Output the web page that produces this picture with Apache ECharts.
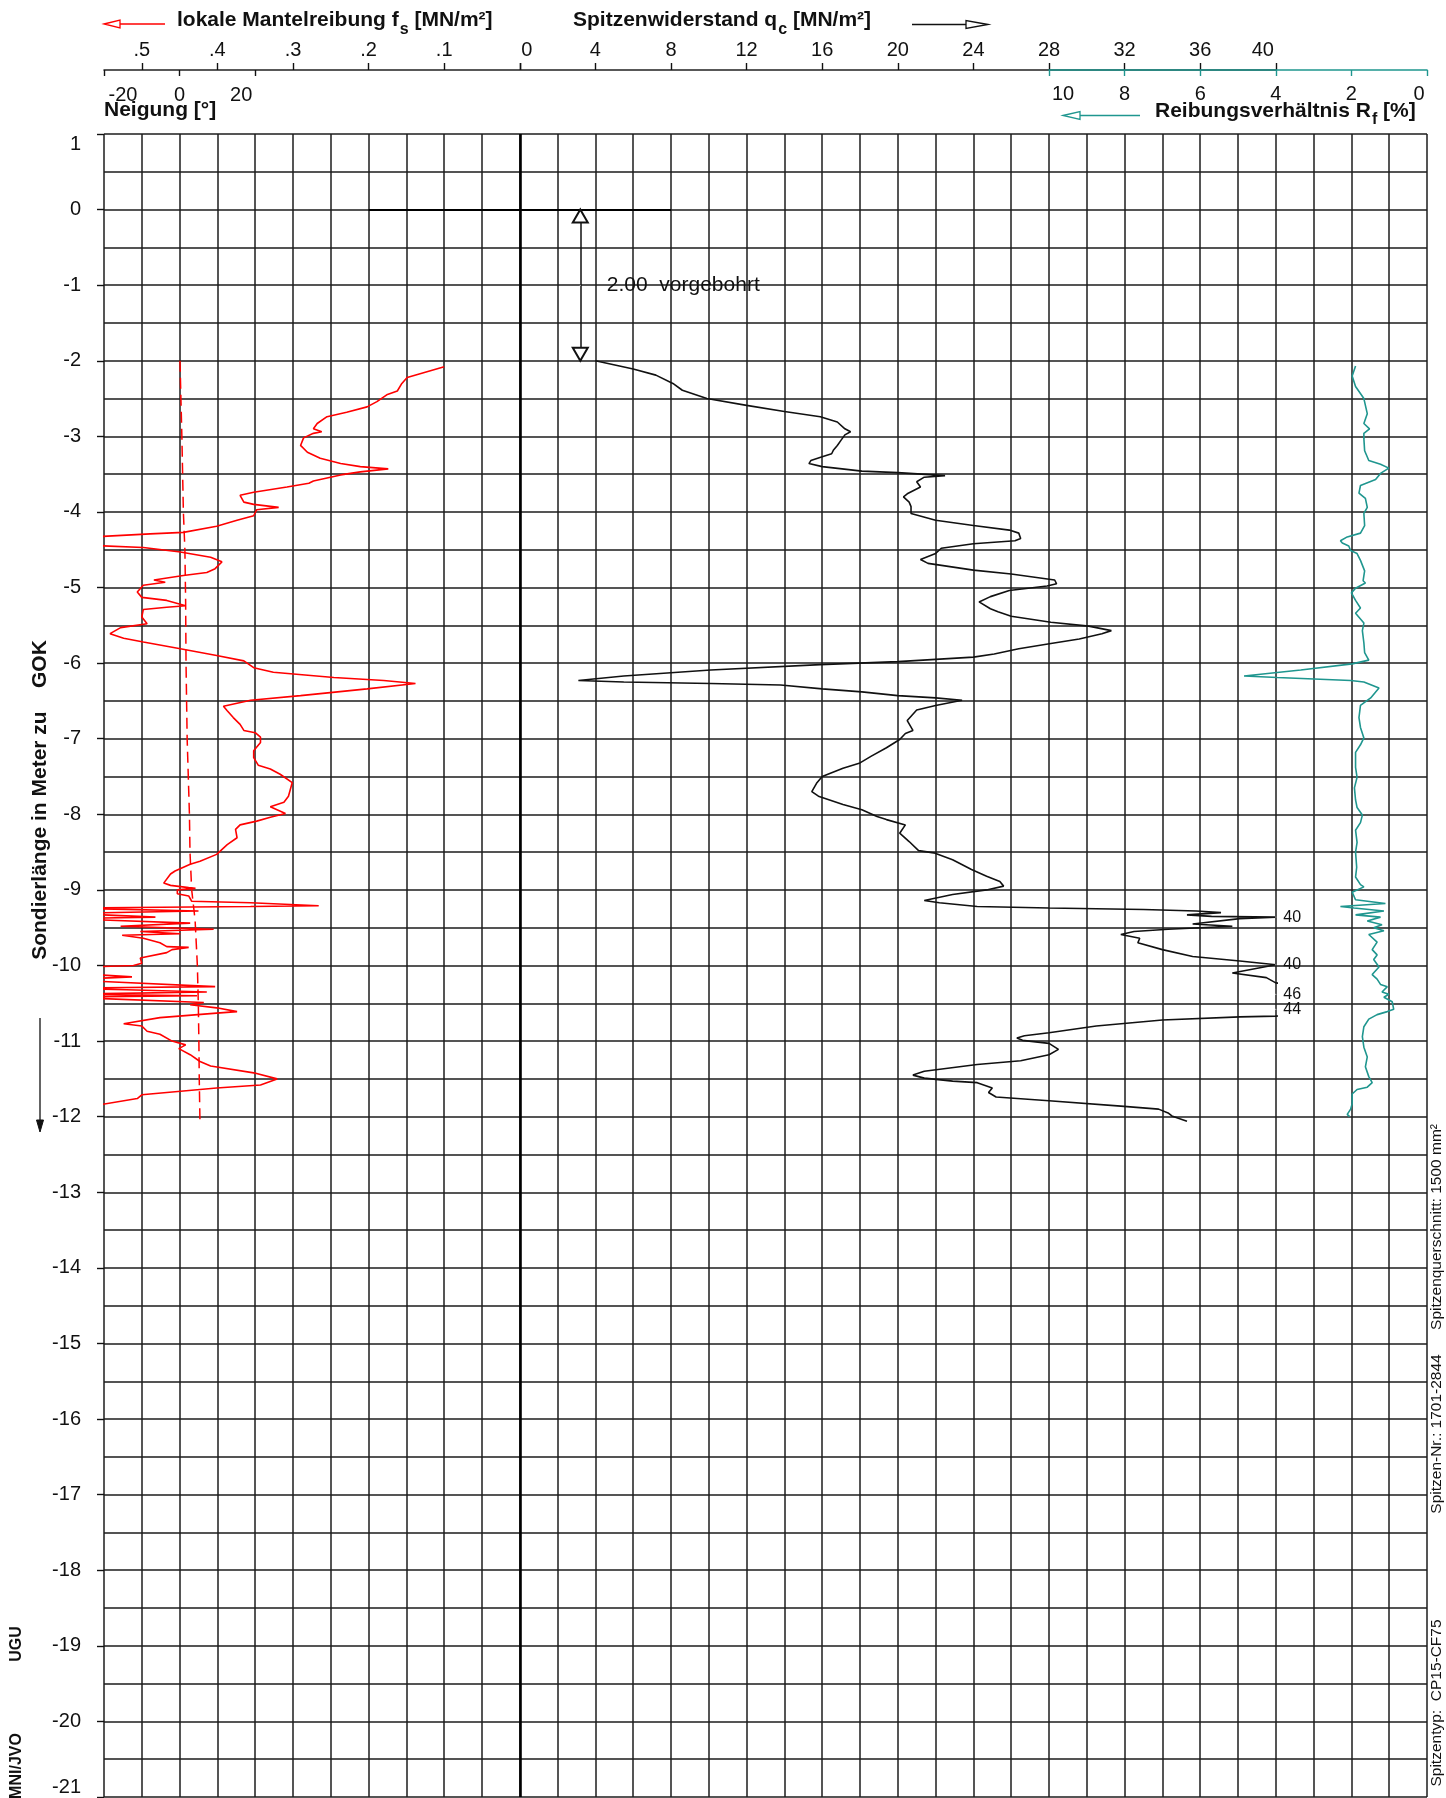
<!DOCTYPE html>
<html>
<head>
<meta charset="utf-8">
<title>Drucksondierung</title>
<script src="https://cdn.jsdelivr.net/npm/echarts@6/dist/echarts.min.js"></script>
<style>
  html, body { margin: 0; padding: 0; background: #fff; }
  #chart { width: 1446px; height: 1798px; }
</style>
</head>
<body>
<div id="chart"></div>
<script>
// ---------- data ----------
// depth axis (m relative to GOK)
const depthMin = -21;
const depthMax = 1;

// tick values of the four scales
const qcTicks = [0, 4, 8, 12, 16, 20, 24, 28, 32, 36, 40];
const fsTicks = [0.5, 0.4, 0.3, 0.2, 0.1];
const neigungTicks = [-20, 0, 20];
const rfTicks = [10, 8, 6, 4, 2, 0];

// pre-drilled section
const predrill = 2.0;
const predrillMarkerQc = 3.2;

// display limit of the cone resistance; excursions beyond are annotated
const qcDisplayMax = 40;
const qcPeakDepth = [-9.36, -9.99, -10.38, -10.58];
const qcPeakValue = [40, 40, 46, 44];

// local skin friction fs [MN/m²]: [depth, fs]
const fsProfile = [
  [-2.08, 0.100], [-2.22, 0.149], [-2.30, 0.156], [-2.40, 0.162], [-2.45, 0.176], [-2.54, 0.189],
  [-2.61, 0.202], [-2.68, 0.229], [-2.74, 0.255], [-2.83, 0.268], [-2.90, 0.273], [-2.94, 0.262],
  [-2.96, 0.273], [-3.02, 0.286], [-3.12, 0.290], [-3.21, 0.281], [-3.29, 0.264], [-3.36, 0.237],
  [-3.40, 0.211], [-3.43, 0.174], [-3.47, 0.211], [-3.51, 0.237], [-3.59, 0.273], [-3.62, 0.279],
  [-3.67, 0.308], [-3.74, 0.352], [-3.78, 0.370], [-3.87, 0.365], [-3.90, 0.352], [-3.94, 0.319],
  [-3.97, 0.348], [-4.05, 0.352], [-4.11, 0.374], [-4.19, 0.401], [-4.27, 0.445], [-4.29, 0.489],
  [-4.35, 0.600], [-4.43, 0.600], [-4.47, 0.498], [-4.53, 0.449], [-4.60, 0.409], [-4.66, 0.394],
  [-4.75, 0.403], [-4.80, 0.414], [-4.84, 0.445], [-4.90, 0.484], [-4.93, 0.469], [-4.97, 0.498],
  [-5.06, 0.506], [-5.13, 0.500], [-5.17, 0.467], [-5.24, 0.442], [-5.26, 0.467], [-5.29, 0.498],
  [-5.39, 0.500], [-5.48, 0.493], [-5.53, 0.528], [-5.61, 0.542], [-5.67, 0.524], [-5.72, 0.498],
  [-5.81, 0.449], [-5.90, 0.401], [-5.97, 0.365], [-6.06, 0.352], [-6.12, 0.326], [-6.19, 0.246],
  [-6.23, 0.180], [-6.27, 0.138], [-6.34, 0.202], [-6.43, 0.290], [-6.49, 0.356], [-6.57, 0.392],
  [-6.63, 0.387], [-6.72, 0.379], [-6.81, 0.370], [-6.89, 0.365], [-6.92, 0.350], [-6.98, 0.343],
  [-7.05, 0.343], [-7.16, 0.352], [-7.25, 0.352], [-7.35, 0.346], [-7.40, 0.330], [-7.47, 0.317],
  [-7.58, 0.301], [-7.76, 0.306], [-7.84, 0.312], [-7.90, 0.330], [-7.99, 0.310], [-8.04, 0.330],
  [-8.09, 0.348], [-8.14, 0.370], [-8.20, 0.376], [-8.31, 0.374], [-8.40, 0.387], [-8.53, 0.401],
  [-8.62, 0.423], [-8.66, 0.436], [-8.75, 0.456], [-8.79, 0.462], [-8.91, 0.471], [-8.94, 0.462],
  [-8.97, 0.438], [-8.98, 0.429], [-9.00, 0.453], [-9.05, 0.453], [-9.08, 0.438], [-9.15, 0.434],
  [-9.17, 0.356], [-9.21, 0.266], [-9.22, 0.356], [-9.24, 0.600], [-9.26, 0.600], [-9.28, 0.425],
  [-9.31, 0.600], [-9.36, 0.482], [-9.38, 0.600], [-9.44, 0.436], [-9.48, 0.528], [-9.52, 0.405],
  [-9.55, 0.502], [-9.58, 0.449], [-9.60, 0.526], [-9.64, 0.498], [-9.70, 0.476], [-9.75, 0.467],
  [-9.76, 0.438], [-9.79, 0.460], [-9.83, 0.467], [-9.90, 0.502], [-9.97, 0.500], [-10.00, 0.511],
  [-10.03, 0.600], [-10.10, 0.600], [-10.15, 0.513], [-10.19, 0.600], [-10.28, 0.403], [-10.30, 0.600],
  [-10.32, 0.520], [-10.35, 0.414], [-10.38, 0.600], [-10.40, 0.427], [-10.42, 0.600], [-10.49, 0.418],
  [-10.52, 0.436], [-10.56, 0.401], [-10.61, 0.374], [-10.63, 0.401], [-10.69, 0.476], [-10.77, 0.524],
  [-10.80, 0.500], [-10.87, 0.493], [-10.91, 0.476], [-11.00, 0.460], [-11.05, 0.442], [-11.10, 0.451],
  [-11.18, 0.436], [-11.27, 0.423], [-11.33, 0.409], [-11.42, 0.352], [-11.50, 0.321], [-11.58, 0.343],
  [-11.62, 0.401], [-11.71, 0.500], [-11.76, 0.506], [-11.85, 0.560]
];

// inclination [°]: [depth, angle]
const neigungProfile = [
  [-2.00, 0.1], [-3.00, 0.6], [-4.00, 1.0], [-4.50, 1.4], [-5.20, 1.6], [-6.00, 1.7],
  [-7.00, 2.0], [-7.50, 2.3], [-8.00, 2.6], [-8.50, 2.75], [-9.00, 3.2], [-9.40, 4.1],
  [-10.00, 4.7], [-10.50, 4.95], [-11.00, 5.1], [-11.50, 5.2], [-12.10, 5.4]
];

// cone resistance qc [MN/m²]: [depth, qc]
const qcProfile = [
  [-2.00, 4.0], [-2.11, 6.0], [-2.19, 7.2], [-2.30, 8.1], [-2.39, 8.6], [-2.50, 9.9],
  [-2.59, 12.0], [-2.67, 14.0], [-2.74, 15.9], [-2.81, 16.8], [-2.90, 17.2], [-2.94, 17.5],
  [-2.98, 17.2], [-3.05, 17.0], [-3.12, 16.8], [-3.18, 16.6], [-3.23, 16.5], [-3.27, 16.0],
  [-3.32, 15.4], [-3.36, 15.3], [-3.40, 16.0], [-3.46, 18.1], [-3.48, 20.0], [-3.52, 22.5],
  [-3.54, 21.4], [-3.60, 21.0], [-3.67, 21.2], [-3.76, 20.5], [-3.80, 20.3], [-3.87, 20.6],
  [-3.93, 20.7], [-4.02, 20.7], [-4.11, 22.0], [-4.18, 24.0], [-4.24, 25.9], [-4.28, 26.4],
  [-4.35, 26.5], [-4.38, 26.2], [-4.42, 24.0], [-4.48, 22.3], [-4.55, 22.0], [-4.63, 21.2],
  [-4.68, 21.6], [-4.77, 24.0], [-4.82, 26.0], [-4.90, 28.3], [-4.95, 28.4], [-4.98, 27.9],
  [-5.04, 25.9], [-5.12, 24.9], [-5.19, 24.3], [-5.28, 24.9], [-5.32, 25.3], [-5.38, 26.0],
  [-5.46, 28.1], [-5.51, 30.1], [-5.57, 31.3], [-5.61, 30.8], [-5.68, 29.6], [-5.74, 28.1],
  [-5.81, 26.4], [-5.88, 25.1], [-5.92, 24.0], [-5.98, 20.0], [-6.02, 15.9], [-6.09, 10.1],
  [-6.17, 5.5], [-6.23, 3.1], [-6.25, 5.5], [-6.27, 10.1], [-6.29, 13.8], [-6.34, 16.0],
  [-6.38, 18.1], [-6.43, 20.0], [-6.46, 22.0], [-6.49, 23.4], [-6.56, 22.0], [-6.62, 21.0],
  [-6.76, 20.5], [-6.89, 20.8], [-6.93, 20.4], [-7.01, 20.1], [-7.12, 19.4], [-7.23, 18.6],
  [-7.32, 18.0], [-7.39, 17.1], [-7.50, 16.0], [-7.59, 15.7], [-7.70, 15.45], [-7.76, 15.8],
  [-7.87, 17.1], [-7.94, 18.1], [-8.03, 18.9], [-8.07, 19.4], [-8.14, 20.4], [-8.25, 20.1],
  [-8.36, 20.6], [-8.48, 21.1], [-8.51, 21.9], [-8.60, 22.9], [-8.73, 23.9], [-8.82, 24.7],
  [-8.89, 25.4], [-8.95, 25.6], [-9.00, 24.7], [-9.06, 22.9], [-9.14, 21.4], [-9.17, 22.2],
  [-9.22, 24.2], [-9.24, 28.0], [-9.26, 33.0], [-9.28, 35.8], [-9.30, 37.1], [-9.33, 35.3],
  [-9.35, 36.6], [-9.36, 40.0], [-9.38, 38.1], [-9.45, 35.6], [-9.48, 37.7], [-9.52, 34.3],
  [-9.55, 32.5], [-9.59, 31.8], [-9.61, 32.2], [-9.64, 32.8], [-9.70, 32.7], [-9.79, 34.0],
  [-9.88, 35.6], [-9.94, 38.1], [-9.99, 40.0], [-10.10, 37.7], [-10.16, 39.5], [-10.23, 40.0],
  [-10.30, 43.0], [-10.38, 46.0], [-10.45, 42.0], [-10.52, 41.5], [-10.58, 44.0], [-10.64, 41.0],
  [-10.67, 40.0], [-10.68, 38.1], [-10.72, 34.0], [-10.80, 30.5], [-10.89, 28.0], [-10.93, 26.7],
  [-10.96, 26.3], [-10.99, 26.6], [-11.03, 28.0], [-11.11, 28.5], [-11.18, 28.0], [-11.26, 26.5],
  [-11.31, 24.2], [-11.40, 21.4], [-11.45, 20.8], [-11.49, 21.4], [-11.53, 22.9], [-11.55, 24.2],
  [-11.62, 25.0], [-11.68, 24.8], [-11.74, 25.2], [-11.79, 28.0], [-11.86, 31.8], [-11.90, 33.8],
  [-11.95, 34.3], [-11.99, 34.5], [-12.06, 35.3]
];

// friction ratio Rf [%]: [depth, Rf]
const rfProfile = [
  [-2.07, 1.89], [-2.20, 1.98], [-2.34, 1.89], [-2.50, 1.67], [-2.70, 1.58], [-2.83, 1.67],
  [-2.90, 1.52], [-2.96, 1.67], [-3.03, 1.67], [-3.19, 1.65], [-3.32, 1.54], [-3.37, 1.23],
  [-3.42, 1.01], [-3.49, 1.23], [-3.57, 1.36], [-3.65, 1.76], [-3.75, 1.80], [-3.82, 1.63],
  [-3.94, 1.58], [-4.02, 1.67], [-4.18, 1.65], [-4.28, 1.76], [-4.33, 2.11], [-4.38, 2.29],
  [-4.41, 2.24], [-4.45, 2.07], [-4.51, 2.02], [-4.55, 1.85], [-4.64, 1.76], [-4.78, 1.65],
  [-4.91, 1.69], [-4.94, 1.63], [-5.01, 1.89], [-5.07, 2.00], [-5.17, 1.89], [-5.27, 1.76],
  [-5.34, 1.89], [-5.47, 1.67], [-5.57, 1.71], [-5.73, 1.67], [-5.86, 1.65], [-5.96, 1.54],
  [-6.01, 1.98], [-6.09, 3.34], [-6.17, 4.84], [-6.19, 3.96], [-6.23, 2.02], [-6.25, 1.67],
  [-6.33, 1.27], [-6.46, 1.49], [-6.56, 1.76], [-6.72, 1.80], [-6.85, 1.76], [-6.99, 1.67],
  [-7.08, 1.76], [-7.18, 1.89], [-7.38, 1.89], [-7.51, 1.85], [-7.65, 1.92], [-7.81, 1.89],
  [-7.91, 1.85], [-8.01, 1.71], [-8.11, 1.76], [-8.21, 1.89], [-8.37, 1.85], [-8.50, 1.89],
  [-8.70, 1.86], [-8.83, 1.89], [-8.93, 1.76], [-8.96, 1.67], [-9.03, 1.98], [-9.13, 1.89],
  [-9.18, 1.10], [-9.22, 2.29], [-9.24, 1.93], [-9.28, 1.14], [-9.33, 1.89], [-9.36, 1.23],
  [-9.41, 1.58], [-9.46, 1.19], [-9.50, 1.41], [-9.54, 1.14], [-9.59, 1.54], [-9.69, 1.32],
  [-9.79, 1.45], [-9.86, 1.32], [-9.92, 1.41], [-10.02, 1.27], [-10.12, 1.45], [-10.18, 1.32],
  [-10.25, 1.23], [-10.28, 1.05], [-10.35, 1.19], [-10.38, 1.01], [-10.42, 1.14], [-10.48, 0.92],
  [-10.58, 0.88], [-10.61, 1.05], [-10.65, 1.32], [-10.71, 1.54], [-10.81, 1.67], [-10.94, 1.71],
  [-11.08, 1.67], [-11.21, 1.58], [-11.34, 1.63], [-11.47, 1.54], [-11.55, 1.45], [-11.61, 1.58],
  [-11.64, 1.85], [-11.70, 1.98], [-11.83, 1.98], [-11.90, 2.02], [-11.97, 2.11], [-12.00, 2.05]
];

// ---------- layout & style ----------
const FONT = '"Liberation Sans", Arial, Helvetica, sans-serif';
const INK = '#111';
const GRID_COLOR = '#1c1c1c';
const RED = '#ff0000';
const TEAL = '#1f968f';

const PLOT_LEFT = 104;
const PLOT_TOP = 134;
const PLOT_WIDTH = 1323;          // 35 columns
const COL = PLOT_WIDTH / 35;
const PLOT_HEIGHT = 1663;         // 22 m
const AXIS_OFFSET = 64;           // scale bar above the plot

const labelFont = { fontSize: 20, fontFamily: FONT, color: INK };

const measureCtx = document.createElement('canvas').getContext('2d');
function textWidth(str, font) {
  measureCtx.font = font;
  return measureCtx.measureText(str).width;
}

function textEl(x, y, text, size, weight, color) {
  return {
    type: 'text', x: x, y: y, silent: true,
    style: {
      text: text, fontSize: size, fontWeight: weight, fontFamily: FONT,
      fill: color || INK, textAlign: 'left', textVerticalAlign: 'middle'
    }
  };
}

// bold heading with a subscript symbol
function heading(x, y, main, sub, tail) {
  const w1 = textWidth(main, 'bold 21px ' + FONT);
  const w2 = textWidth(sub, 'bold 16px ' + FONT);
  return [
    textEl(x, y, main, 21, 'bold'),
    textEl(x + w1 + 1, y + 9, sub, 16, 'bold'),
    textEl(x + w1 + 1 + w2, y, tail, 21, 'bold')
  ];
}

function arrow(x1, x2, y, color, headLen) {
  const dir = x2 > x1 ? 1 : -1;
  const base = x2 - dir * headLen;
  return [
    { type: 'polyline', silent: true, shape: { points: [[x1, y], [base, y]] },
      style: { stroke: color, lineWidth: 1.5, fill: null } },
    { type: 'polygon', silent: true, shape: { points: [[x2, y], [base, y - 4], [base, y + 4]] },
      style: { stroke: color, lineWidth: 1.3, fill: '#fff' } }
  ];
}

function rotText(x, y, text, size, weight) {
  return {
    type: 'text', x: x, y: y, rotation: Math.PI / 2, silent: true,
    style: {
      text: text, fontSize: size, fontWeight: weight, fontFamily: FONT, fill: INK,
      textAlign: 'center', textVerticalAlign: 'middle'
    }
  };
}

const graphics = [].concat(
  arrow(165, 104, 24, RED, 16),
  heading(177, 20.5, 'lokale Mantelreibung f', 's', ' [MN/m²]'),
  heading(573, 20.5, 'Spitzenwiderstand q', 'c', ' [MN/m²]'),
  arrow(912, 988, 24.5, '#111', 22),
  textEl(104, 110.5, 'Neigung [°]', 21, 'bold'),
  arrow(1140, 1063, 115.5, TEAL, 17),
  heading(1155, 111, 'Reibungsverhältnis R', 'f', ' [%]'),
  [
    rotText(40, 800, 'Sondierlänge in Meter zu    GOK', 21, 'bold'),
    { type: 'polyline', silent: true, shape: { points: [[40, 1018], [40, 1124]] },
      style: { stroke: '#111', lineWidth: 1.3, fill: null } },
    { type: 'polygon', silent: true, shape: { points: [[40, 1132], [36.5, 1120], [43.5, 1120]] },
      style: { fill: '#111', stroke: '#111', lineWidth: 1 } },
    rotText(17, 1644, 'UGU', 16, 'bold'),
    rotText(17, 1766, 'MNI/JVO', 16, 'bold'),
    rotText(1437, 1703, 'Spitzentyp:  CP15-CF75', 15.5, 'normal'),
    rotText(1437, 1434, 'Spitzen-Nr.: 1701-2844', 15.5, 'normal'),
    rotText(1437, 1227, 'Spitzenquerschnitt: 1500 mm²', 15.5, 'normal')
  ]
);

const tickLine = { color: INK, width: 1.4 };

function richLabel(base, shifts) {
  const rich = {};
  Object.keys(shifts).forEach(function (k) {
    rich[k] = Object.assign({ padding: shifts[k] }, base);
  });
  rich.n = Object.assign({}, base);
  return rich;
}

const option = {
  animation: false,
  backgroundColor: '#fff',
  textStyle: { fontFamily: FONT },
  grid: [
    { left: PLOT_LEFT, top: PLOT_TOP, width: PLOT_WIDTH, height: PLOT_HEIGHT },
    { left: PLOT_LEFT + 25 * COL, top: PLOT_TOP, width: 10 * COL, height: PLOT_HEIGHT },
    { left: PLOT_LEFT, top: PLOT_TOP, width: 31 * COL, height: PLOT_HEIGHT }
  ],
  xAxis: [
    // background grid, one column per 2 MN/m² of qc
    {
      gridIndex: 0, type: 'value', min: -22, max: 48, interval: 2, position: 'top',
      axisLine: { show: false, onZero: false }, axisTick: { show: false }, axisLabel: { show: false },
      splitLine: { show: true, lineStyle: { color: GRID_COLOR, width: 1.5 } }
    },
    // local skin friction fs (increasing to the left)
    {
      gridIndex: 0, type: 'value', inverse: true, min: -1.2, max: 0.55, position: 'top', offset: AXIS_OFFSET,
      axisLine: { show: false, onZero: false },
      axisTick: { show: true, inside: false, length: 7, customValues: fsTicks.concat([0]), lineStyle: tickLine },
      axisLabel: Object.assign({ customValues: fsTicks, margin: 10,
        formatter: function (v) { return '.' + Math.round(v * 10); } }, labelFont),
      splitLine: { show: false }
    },
    // inclination
    {
      gridIndex: 0, type: 'value', min: -20, max: 330, position: 'top', offset: AXIS_OFFSET,
      axisLine: { show: false, onZero: false },
      axisTick: { show: true, inside: true, length: 6, customValues: neigungTicks, lineStyle: tickLine },
      axisLabel: Object.assign({ inside: true, margin: 15, customValues: neigungTicks,
        formatter: function (v) { return v === -20 ? '{a|-20}' : (v === 20 ? '{b|20}' : '{n|' + v + '}'); },
        rich: richLabel(labelFont, { a: [0, 0, 0, 38], b: [0, 28, 0, 0] }) }, labelFont),
      splitLine: { show: false }
    },
    // cone resistance qc (drawn up to the display limit)
    {
      gridIndex: 2, type: 'value', min: -22, max: qcDisplayMax, position: 'top', offset: AXIS_OFFSET,
      axisLine: { show: true, onZero: false, lineStyle: { color: '#222', width: 1.5 } },
      axisTick: { show: true, inside: false, length: 7, customValues: qcTicks, lineStyle: tickLine },
      axisLabel: Object.assign({ margin: 10, customValues: qcTicks,
        formatter: function (v) { return v === 0 ? '{a|0}' : (v === qcDisplayMax ? '{b|' + v + '}' : '{n|' + v + '}'); },
        rich: richLabel(labelFont, { a: [0, 0, 0, 14], b: [0, 26, 0, 0] }) }, labelFont),
      splitLine: { show: false }
    },
    // friction ratio Rf (increasing to the left)
    {
      gridIndex: 1, type: 'value', inverse: true, min: 0, max: 10, position: 'top', offset: AXIS_OFFSET, z: 2,
      axisLine: { show: true, onZero: false, lineStyle: { color: TEAL, width: 1.6 } },
      axisTick: { show: true, inside: true, length: 6, customValues: rfTicks, lineStyle: { color: TEAL, width: 1.4 } },
      axisLabel: Object.assign({ inside: true, margin: 14, customValues: rfTicks,
        formatter: function (v) { return v === 10 ? '{a|10}' : (v === 0 ? '{b|0}' : '{n|' + v + '}'); },
        rich: richLabel(labelFont, { a: [0, 0, 0, 28], b: [0, 16, 0, 0] }) }, labelFont),
      splitLine: { show: false }
    }
  ],
  yAxis: [
    {
      gridIndex: 0, type: 'value', min: depthMin, max: depthMax, interval: 1,
      axisLine: { show: false, onZero: false },
      axisTick: { show: true, inside: false, length: 7, lineStyle: tickLine },
      axisLabel: Object.assign({ margin: 23, verticalAlignMaxLabel: 'top', verticalAlignMinLabel: 'bottom' }, labelFont),
      splitLine: { show: true, lineStyle: { color: GRID_COLOR, width: 1.5 } },
      minorTick: { show: false, splitNumber: 2 },
      minorSplitLine: { show: true, lineStyle: { color: GRID_COLOR, width: 1.5 } }
    },
    { gridIndex: 1, type: 'value', min: depthMin, max: depthMax, show: false, axisLine: { onZero: false } },
    { gridIndex: 2, type: 'value', min: depthMin, max: depthMax, show: false, axisLine: { onZero: false } }
  ],
  graphic: { elements: graphics },
  series: [
    {
      name: 'fs', type: 'line', xAxisIndex: 1, yAxisIndex: 0,
      data: fsProfile.map(function (p) { return [p[1], p[0]]; }),
      symbol: 'none', silent: true, clip: true, z: 4,
      lineStyle: { color: RED, width: 1.6 }
    },
    {
      name: 'Neigung', type: 'line', xAxisIndex: 2, yAxisIndex: 0,
      data: neigungProfile.map(function (p) { return [p[1], p[0]]; }),
      symbol: 'none', silent: true, z: 4,
      lineStyle: { color: RED, width: 1.5, type: [11, 6] }
    },
    {
      name: 'qc', type: 'line', xAxisIndex: 3, yAxisIndex: 2,
      data: qcProfile.map(function (p) { return [p[1], p[0]]; }),
      symbol: 'none', silent: true, clip: true, z: 4,
      lineStyle: { color: '#111', width: 1.6 },
      markLine: {
        silent: true, symbol: 'none', animation: false, label: { show: false },
        data: [
          { xAxis: 0, lineStyle: { color: '#000', width: 2.6, type: 'solid' } },
          [ { coord: [-8, 0], lineStyle: { color: '#000', width: 2.2, type: 'solid' } }, { coord: [8, 0] } ]
        ]
      }
    },
    {
      name: 'qc-peaks', type: 'scatter', xAxisIndex: 3, yAxisIndex: 2, clip: false, silent: true,
      symbol: 'circle', symbolSize: 1, itemStyle: { color: '#fff', opacity: 1 }, z: 5,
      data: qcPeakDepth.map(function (d, i) { return [qcDisplayMax, d, qcPeakValue[i]]; }),
      label: {
        show: true, position: 'right', distance: 7, color: '#111', opacity: 1, textBorderWidth: 0,
        fontSize: 16, fontFamily: FONT,
        formatter: function (p) { return String(p.value[2]); }
      }
    },
    {
      name: 'Rf', type: 'line', xAxisIndex: 4, yAxisIndex: 1,
      data: rfProfile.map(function (p) { return [p[1], p[0]]; }),
      symbol: 'none', silent: true, z: 4,
      lineStyle: { color: TEAL, width: 1.6 }
    },
    {
      name: 'vorgebohrt', type: 'scatter', xAxisIndex: 3, yAxisIndex: 2, clip: false, silent: true,
      symbol: 'circle', symbolSize: 1, itemStyle: { color: '#fff', opacity: 1 }, z: 5,
      data: [[predrillMarkerQc, -predrill / 2]],
      label: {
        show: true, position: 'right', distance: 26, color: '#111', opacity: 1, textBorderWidth: 0,
        fontSize: 21, fontFamily: FONT,
        formatter: function () { return predrill.toFixed(2) + '  vorgebohrt'; }
      },
      markLine: {
        silent: true, animation: false, label: { show: false },
        symbol: ['emptyTriangle', 'emptyTriangle'], symbolSize: [15, 13],
        symbolOffset: [[0, 6.5], [0, 6.5]],
        lineStyle: { color: '#111', width: 1.5, type: 'solid' },
        data: [[ { coord: [predrillMarkerQc, 0] }, { coord: [predrillMarkerQc, -predrill] } ]]
      }
    }
  ]
};

const chart = echarts.init(document.getElementById('chart'), null, { renderer: 'canvas', width: 1446, height: 1798 });
chart.setOption(option);
</script>
</body>
</html>
